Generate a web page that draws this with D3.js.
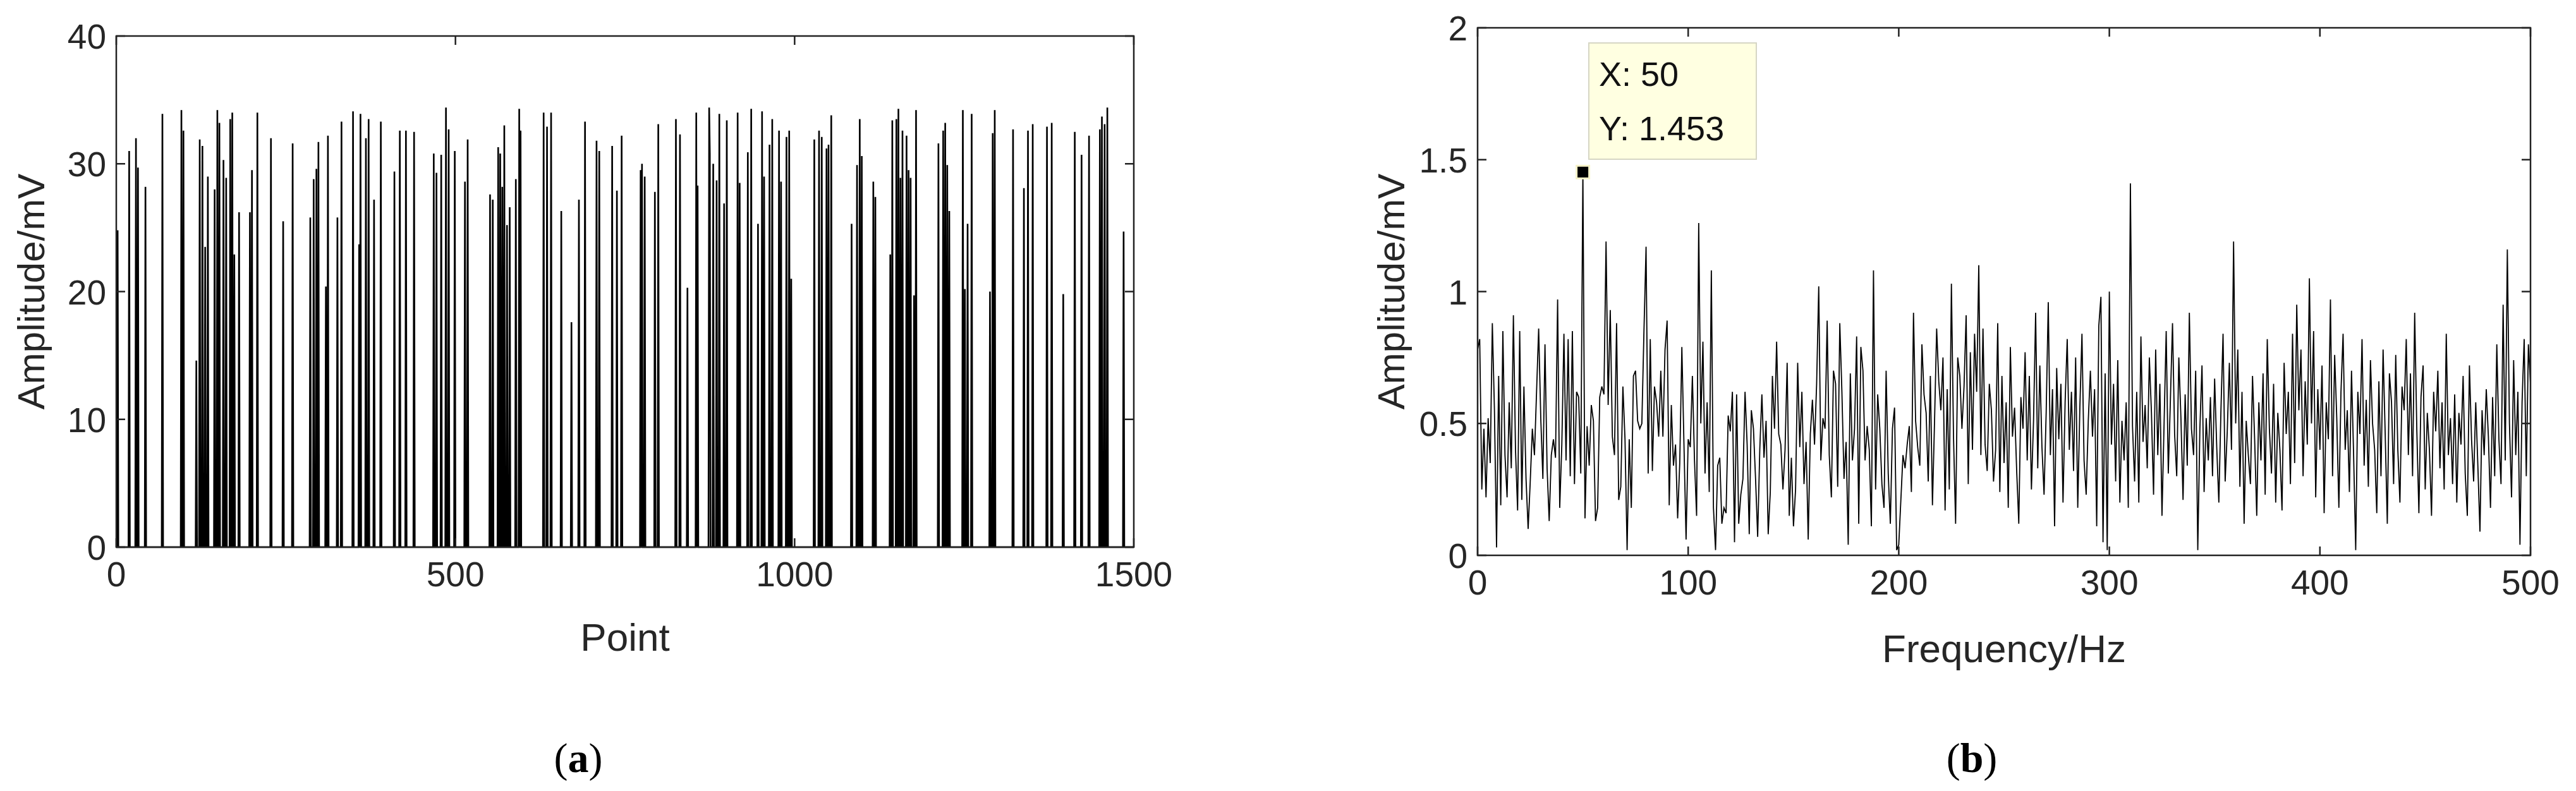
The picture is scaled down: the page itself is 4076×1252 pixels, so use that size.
<!DOCTYPE html>
<html><head><meta charset="utf-8">
<script src="https://cdn.jsdelivr.net/npm/d3@7"></script>
<style>body{margin:0;background:#fff}</style>
</head><body>
<svg id="c" width="4076" height="1252"></svg>
<script>
// ---- Panel (a): spike positions and amplitudes ----
const spikePoints = [2,19,29,32,43,68,96,99,118,123,127,131,135,145,149,152,158,162,168,171,174,181,197,200,208,228,246,260,286,291,295,298,309,312,326,332,349,358,360,368,372,380,390,410,418,427,439,468,472,479,486,490,499,514,518,551,555,563,566,569,572,576,580,589,594,596,630,635,641,656,671,682,691,708,712,731,738,745,773,775,779,794,799,825,831,842,855,857,874,875,880,885,889,896,900,916,919,931,936,946,952,955,963,967,977,980,988,992,995,1029,1036,1040,1047,1050,1054,1084,1092,1096,1099,1116,1119,1141,1144,1150,1153,1156,1159,1165,1168,1171,1176,1179,1212,1219,1222,1225,1228,1248,1251,1255,1261,1288,1292,1295,1322,1338,1344,1351,1372,1379,1396,1413,1423,1434,1450,1453,1457,1461,1485];
const spikeValues = [24.8,31,32,29.7,28.2,33.9,34.2,32.6,14.6,31.9,31.4,23.5,29,28,34.2,33.2,30.3,28.9,33.5,34,22.9,26.2,26.2,29.5,34,32,25.5,31.6,25.8,28.8,29.6,31.7,20.4,32.2,25.8,33.3,34.1,23.7,33.9,32,33.5,27.2,33.3,29.4,32.6,32.6,32.5,30.8,29.3,30.7,34.4,32.7,31,28.6,31.9,27.6,27.2,31.3,30.8,28.2,33,25.2,26.6,28.8,34.3,32.6,34,32.9,34,26.3,17.6,27.2,33.3,31.8,31,31.4,27.9,32.2,29.5,30,29,27.8,33.1,33.5,32.3,20.3,34,28.3,34.4,30.8,30,28.7,33.9,26.9,33.4,34,28.5,30.9,34.3,25.3,34.1,29,31.5,33.5,32.6,28.6,32.1,32.6,21,31.9,32.6,32.1,31.2,31.5,33.8,25.3,29.9,33.5,30.6,28.6,27.4,22.9,33.4,33.5,34.3,28.9,32.6,32.2,29.5,28.9,19.7,34.2,31.6,32.6,33.2,29.9,26.3,34.2,20.2,25.3,33.9,20,32.4,34.2,32.7,28.1,32.6,33.1,32.9,33.2,19.8,32.5,30.7,32.2,32.7,33.7,33.1,34.4,24.7];
const aXTicks = [0,500,1000,1500];
const aYTicks = [0,10,20,30,40];

// ---- Panel (b): amplitude spectrum, 0..500 Hz at 1 Hz ----
const spectrum = [
0.78,0.82,0.25,0.48,0.22,0.52,0.35,0.88,0.55,0.03,0.68,0.19,0.85,0.38,0.22,0.58,0.33,0.91,0.40,0.17,
0.85,0.21,0.64,0.29,0.10,0.28,0.48,0.38,0.62,0.86,0.52,0.29,0.80,0.33,0.13,0.38,0.44,0.37,0.97,0.18,
0.42,0.84,0.36,0.82,0.30,0.85,0.27,0.62,0.60,0.31,1.453,0.14,0.49,0.34,0.57,0.51,0.13,0.18,0.60,0.64,
0.61,1.19,0.57,0.93,0.45,0.38,0.88,0.21,0.26,0.64,0.44,0.02,0.44,0.18,0.68,0.70,0.51,0.48,0.50,0.85,
1.17,0.31,0.82,0.32,0.64,0.58,0.45,0.70,0.45,0.78,0.89,0.19,0.57,0.34,0.42,0.14,0.35,0.79,0.42,0.06,
0.44,0.41,0.68,0.36,0.15,1.26,0.50,0.81,0.31,0.58,0.24,1.08,0.18,0.02,0.34,0.37,0.12,0.18,0.16,0.53,
0.47,0.62,0.05,0.61,0.12,0.23,0.29,0.62,0.42,0.08,0.55,0.48,0.29,0.07,0.40,0.61,0.37,0.51,0.08,0.24,
0.68,0.48,0.81,0.46,0.42,0.25,0.40,0.73,0.15,0.37,0.11,0.25,0.73,0.41,0.62,0.27,0.43,0.06,0.46,0.59,
0.42,0.65,1.02,0.36,0.52,0.48,0.89,0.38,0.22,0.70,0.65,0.26,0.88,0.62,0.29,0.43,0.04,0.69,0.36,0.48,
0.83,0.12,0.79,0.70,0.36,0.49,0.40,0.11,1.08,0.25,0.61,0.48,0.27,0.18,0.70,0.31,0.12,0.48,0.56,0.02,
0.04,0.21,0.38,0.33,0.42,0.49,0.24,0.92,0.51,0.41,0.34,0.80,0.61,0.54,0.28,0.68,0.19,0.51,0.86,0.66,
0.55,0.75,0.17,0.63,0.25,1.03,0.45,0.12,0.75,0.68,0.48,0.64,0.91,0.27,0.77,0.40,0.84,0.62,1.10,0.38,
0.86,0.42,0.32,0.65,0.55,0.28,0.40,0.88,0.24,0.68,0.35,0.58,0.18,0.79,0.45,0.56,0.32,0.12,0.60,0.48,
0.77,0.36,0.68,0.25,0.51,0.92,0.33,0.72,0.41,0.23,0.54,0.96,0.38,0.63,0.11,0.71,0.44,0.65,0.20,0.58,
0.82,0.40,0.62,0.32,0.75,0.18,0.56,0.84,0.36,0.23,0.51,0.70,0.45,0.63,0.11,0.87,0.98,0.05,0.69,0.02,
1.0,0.42,0.65,0.28,0.74,0.20,0.51,0.36,0.58,0.18,1.41,0.49,0.28,0.62,0.20,0.83,0.43,0.57,0.33,0.75,
0.54,0.23,0.78,0.38,0.65,0.15,0.50,0.85,0.31,0.59,0.88,0.46,0.30,0.75,0.52,0.21,0.61,0.34,0.92,0.48,
0.38,0.70,0.02,0.48,0.72,0.24,0.52,0.36,0.60,0.30,0.67,0.41,0.20,0.55,0.84,0.28,0.47,0.73,0.40,1.19,
0.50,0.78,0.26,0.62,0.12,0.51,0.38,0.27,0.68,0.44,0.15,0.58,0.36,0.69,0.23,0.82,0.48,0.31,0.65,0.20,
0.54,0.40,0.17,0.73,0.46,0.62,0.27,0.84,0.35,0.95,0.55,0.78,0.30,0.66,0.42,1.05,0.50,0.85,0.22,0.63,
0.40,0.72,0.16,0.58,0.44,0.97,0.30,0.76,0.52,0.18,0.62,0.84,0.40,0.55,0.24,0.70,0.38,0.02,0.62,0.46,
0.82,0.34,0.59,0.26,0.74,0.50,0.40,0.16,0.66,0.30,0.78,0.46,0.12,0.69,0.58,0.27,0.76,0.40,0.20,0.64,
0.55,0.82,0.38,0.69,0.30,0.92,0.48,0.16,0.60,0.72,0.25,0.54,0.40,0.15,0.62,0.47,0.70,0.33,0.58,0.25,
0.84,0.38,0.52,0.27,0.61,0.20,0.54,0.42,0.68,0.31,0.15,0.72,0.44,0.28,0.58,0.34,0.09,0.55,0.38,0.63,
0.45,0.18,0.60,0.30,0.80,0.44,0.27,0.95,0.36,1.16,0.50,0.22,0.74,0.38,0.62,0.04,0.58,0.82,0.30,0.80,
0.65];
const bXTicks = [0,100,200,300,400,500];
const bYTicks = [0,0.5,1,1.5,2];
const peakFreq = 50, peakAmp = 1.453;

const svg = d3.select("#c");
const FONT = "'Liberation Sans', Arial, sans-serif";

function frame(x, y, xt, yt, fmt) {
  const g = svg.append("g");
  const [x0,x1] = x.range(), [y0,y1] = y.range();
  const tl = 14;
  xt.forEach(v => {
    g.append("line").attr("x1",x(v)).attr("x2",x(v)).attr("y1",y0).attr("y2",y0-tl).attr("stroke","#222").attr("stroke-width",2.5);
    g.append("line").attr("x1",x(v)).attr("x2",x(v)).attr("y1",y1).attr("y2",y1+tl).attr("stroke","#222").attr("stroke-width",2.5);
    g.append("text").attr("x",x(v)).attr("y",y0+62).attr("text-anchor","middle").attr("font-family",FONT).attr("font-size",55).attr("fill","#262626").text(v);
  });
  yt.forEach(v => {
    g.append("line").attr("x1",x0).attr("x2",x0+tl).attr("y1",y(v)).attr("y2",y(v)).attr("stroke","#222").attr("stroke-width",2.5);
    g.append("line").attr("x1",x1).attr("x2",x1-tl).attr("y1",y(v)).attr("y2",y(v)).attr("stroke","#222").attr("stroke-width",2.5);
    g.append("text").attr("x",x0-16).attr("y",y(v)+20).attr("text-anchor","end").attr("font-family",FONT).attr("font-size",55).attr("fill","#262626").text(fmt(v));
  });
  g.append("rect").attr("x",x0).attr("y",y1).attr("width",x1-x0).attr("height",y0-y1).attr("fill","none").attr("stroke","#222").attr("stroke-width",2.5);
}

// Panel (a)
const signal = new Array(1501).fill(0);
spikePoints.forEach((p,i) => signal[p] = spikeValues[i]);
const xa = d3.scaleLinear().domain([0,1500]).range([184,1794]);
const ya = d3.scaleLinear().domain([0,40]).range([866,57]);
svg.append("path").datum(signal).attr("fill","none").attr("stroke","#000").attr("stroke-width",2.6)
  .attr("d", d3.line().x((d,i)=>xa(i)).y(d=>ya(d)));
frame(xa, ya, aXTicks, aYTicks, d=>d);
svg.append("text").attr("x",(184+1794)/2).attr("y",1030).attr("text-anchor","middle").attr("font-family",FONT).attr("font-size",62).attr("fill","#262626").text("Point");
svg.append("text").attr("transform",`translate(70,${(57+866)/2}) rotate(-90)`).attr("text-anchor","middle").attr("font-family",FONT).attr("font-size",60).attr("fill","#262626").text("Amplitude/mV");

// Panel (b)
const xb = d3.scaleLinear().domain([0,500]).range([2338,4004]);
const yb = d3.scaleLinear().domain([0,2]).range([879,44]);
svg.append("path").datum(spectrum).attr("fill","none").attr("stroke","#000").attr("stroke-width",1.8)
  .attr("d", d3.line().x((d,i)=>xb(i)).y(d=>yb(d)));
frame(xb, yb, bXTicks, bYTicks, d=>d);
svg.append("text").attr("x",(2338+4004)/2).attr("y",1048).attr("text-anchor","middle").attr("font-family",FONT).attr("font-size",62).attr("fill","#262626").text("Frequency/Hz");
svg.append("text").attr("transform",`translate(2222,${(44+879)/2}) rotate(-90)`).attr("text-anchor","middle").attr("font-family",FONT).attr("font-size",60).attr("fill","#262626").text("Amplitude/mV");
// data tip
svg.append("rect").attr("x",xb(peakFreq)-10).attr("y",yb(peakAmp)-10).attr("width",20).attr("height",20).attr("fill","#000").attr("stroke","#f6f2c8").attr("stroke-width",3);
svg.append("rect").attr("x",2514).attr("y",68).attr("width",265).attr("height",184).attr("fill","#ffffe1").attr("stroke","#d6d6c4").attr("stroke-width",2);
svg.append("text").attr("x",2530).attr("y",136).attr("font-family",FONT).attr("font-size",54).attr("fill","#111").text("X: " + peakFreq);
svg.append("text").attr("x",2530).attr("y",222).attr("font-family",FONT).attr("font-size",54).attr("fill","#111").text("Y: " + peakAmp);

// captions
[["a",915],["b",3120]].forEach(([l,x]) => {
  const t = svg.append("text").attr("x",x).attr("y",1222).attr("text-anchor","middle").attr("font-family","'Liberation Serif', 'Times New Roman', serif").attr("font-size",66).attr("fill","#000");
  t.append("tspan").text("(");
  t.append("tspan").attr("font-weight","bold").text(l);
  t.append("tspan").text(")");
});
</script>
</body></html>
